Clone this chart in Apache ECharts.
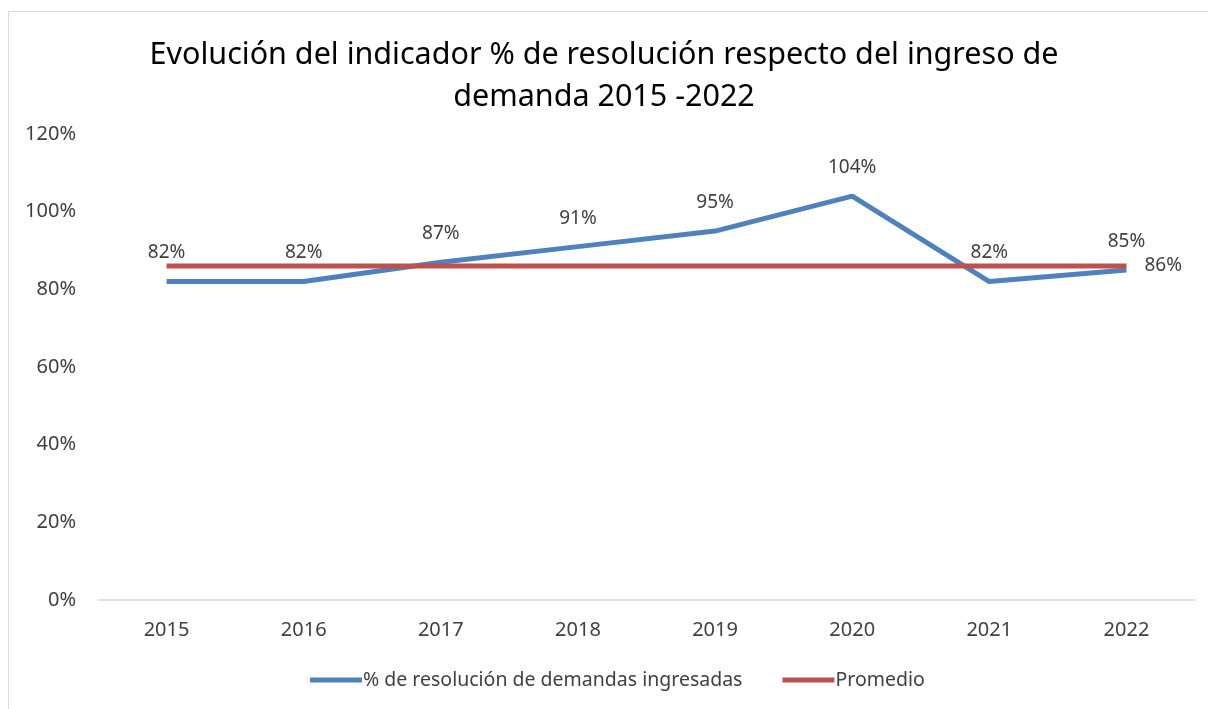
<!DOCTYPE html>
<html>
<head>
<meta charset="utf-8">
<script src="https://cdn.jsdelivr.net/npm/echarts@6/dist/echarts.min.js"></script>
<style>
    html, body { margin: 0; padding: 0; background: #fff; }
    #chart { width: 1208px; height: 709px; }
</style>
</head>
<body>
<div id="chart"></div>
<script>
var years = ['2015', '2016', '2017', '2018', '2019', '2020', '2021', '2022'];
var resolucion = [82, 82, 87, 91, 95, 104, 82, 85];
var promedio = [86, 86, 86, 86, 86, 86, 86, 86];
var yTicks = [0, 20, 40, 60, 80, 100, 120];

var chart = echarts.init(document.getElementById('chart'));
var labelFont = 'Noto Sans, sans-serif';

var option = {
    animation: false,
    title: {
        text: 'Evolución del indicador % de resolución respecto del ingreso de\ndemanda 2015 -2022',
        left: 'center',
        top: 29,
        textStyle: {
            fontFamily: 'Noto Sans, sans-serif',
            fontSize: 30.5,
            fontWeight: 'normal',
            color: '#000',
            lineHeight: 42
        }
    },
    graphic: [{
        type: 'rect',
        shape: { x: 8.5, y: 11.5, width: 1400, height: 900 },
        style: { fill: 'none', stroke: '#d9d9d9', lineWidth: 1 },
        silent: true
    }],
    legend: {
        bottom: 14,
        left: 305,
        itemGap: 40,
        itemWidth: 52,
        itemHeight: 5,
        icon: 'rect',
        textStyle: { fontFamily: labelFont, fontSize: 19.5, color: '#404040', padding: [0, 0, 0, -4] },
        data: ['% de resolución de demandas ingresadas', 'Promedio']
    },
    grid: { left: 98, right: 13, top: 134, bottom: 109 },
    xAxis: {
        type: 'category',
        data: years,
        axisLine: { lineStyle: { color: '#d9d9d9', width: 1.5 } },
        axisTick: { show: false },
        axisLabel: { fontFamily: labelFont, fontSize: 20, color: '#404040', margin: 20 }
    },
    yAxis: {
        type: 'value',
        min: yTicks[0],
        max: yTicks[yTicks.length - 1],
        interval: 20,
        axisLine: { show: false },
        axisTick: { show: false },
        splitLine: { show: false },
        axisLabel: {
            fontFamily: labelFont, fontSize: 20, color: '#404040', margin: 22,
            formatter: function (v) { return v + '%'; }
        }
    },
    series: [
        {
            name: '% de resolución de demandas ingresadas',
            type: 'line',
            data: resolucion,
            symbol: 'circle',
            symbolSize: 0,
            color: '#4f81bd',
            lineStyle: { width: 5, color: '#4f81bd' },
            z: 2,
            label: {
                show: true, position: 'top', distance: 19,
                fontFamily: labelFont, fontSize: 19, color: '#404040',
                formatter: function (p) { return p.value + '%'; }
            }
        },
        {
            name: 'Promedio',
            type: 'line',
            data: promedio,
            symbol: 'circle',
            symbolSize: 0,
            color: '#c0504d',
            lineStyle: { width: 5, color: '#c0504d' },
            z: 3,
            label: {
                show: true, position: 'right', distance: 18,
                fontFamily: labelFont, fontSize: 19, color: '#404040',
                formatter: function (p) {
                    return p.dataIndex === promedio.length - 1 ? p.value + '%' : '';
                }
            }
        }
    ]
};
chart.setOption(option);
</script>
</body>
</html>
